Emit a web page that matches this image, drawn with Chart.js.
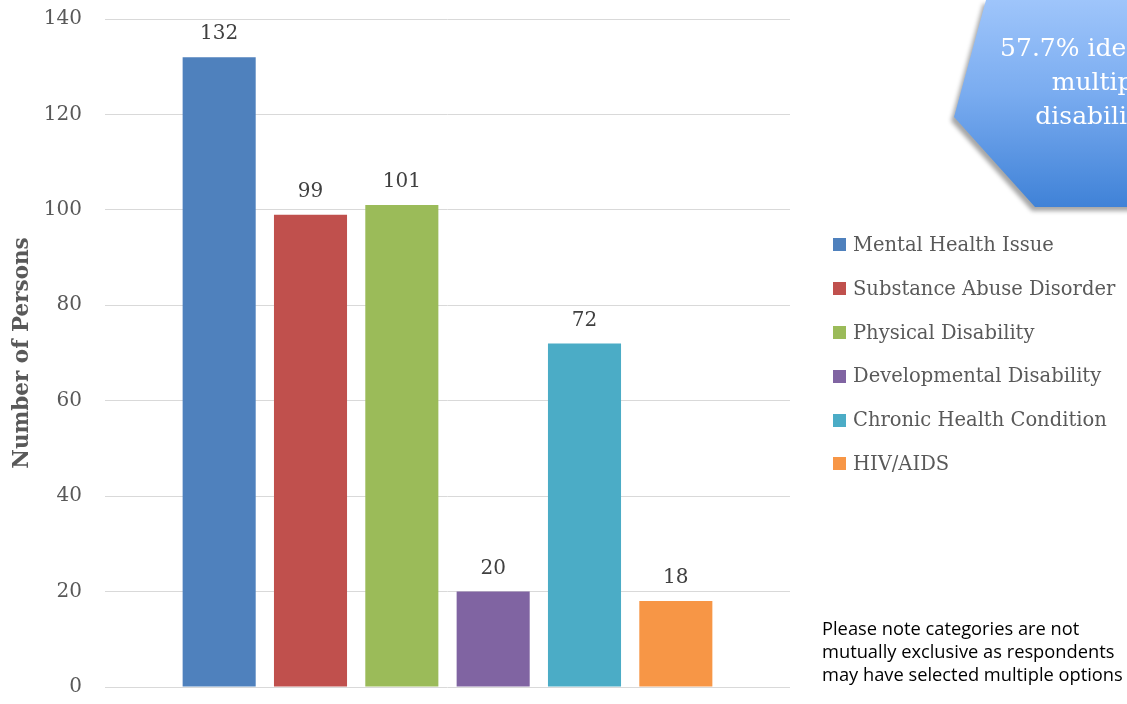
<!DOCTYPE html>
<html>
<head>
<meta charset="utf-8">
<script src="https://cdn.jsdelivr.net/npm/chart.js@4"></script>
<style>
  html, body { margin: 0; padding: 0; background: #fff; overflow: hidden; }
  #wrap { position: relative; width: 1127px; height: 704px; }
  #callout-shadow { position: absolute; left: 948px; top: -4px; width: 320px; height: 216px;
    filter: drop-shadow(-3px 4px 2px rgba(0,0,0,0.35)); }
  #callout { position: absolute; left: 0; top: 0; width: 100%; height: 100%;
    background: linear-gradient(to bottom, #a0c6fb 0%, #7aacf0 45%, #3d80d6 100%);
    clip-path: polygon(38px 4px, 320px 4px, 320px 211px, 87px 211px, 6px 121px); }
  #callout-text { position: absolute; left: 954px; top: 31px; width: 300px; text-align: center;
    color: #fff; font: 25px 'DejaVu Serif', serif; line-height: 34px; }
  #leyenda { position: absolute; left: 833px; top: 223px; margin: 0; padding: 0; list-style: none;
    font: 19.5px 'DejaVu Serif', serif; color: #595959; white-space: nowrap; }
  #leyenda li { height: 43.8px; line-height: 43.8px; display: flex; align-items: center; }
  #leyenda span { display: inline-block; width: 13px; height: 13px; margin-right: 7px; }
  #note { position: absolute; left: 822px; top: 616px; width: 320px; color: #000;
    font: 18.3px 'Open Sans', sans-serif; line-height: 23px; white-space: nowrap; }
</style>
</head>
<body>
<div id="wrap">
  <canvas id="chart" width="1127" height="704"></canvas>
  <div id="callout-shadow"><div id="callout"></div></div>
  <div id="callout-text">57.7% identified<br>multiple<br>disabilities</div>
  <ul id="leyenda"></ul>
  <div id="note">Please note categories are not<br>mutually exclusive as respondents<br>may have selected multiple options</div>
</div>
<script>
// datos del gráfico
const categorias = ['Mental Health Issue', 'Substance Abuse Disorder', 'Physical Disability',
  'Developmental Disability', 'Chronic Health Condition', 'HIV/AIDS'];
const personas = [132, 99, 101, 20, 72, 18];
const colores = ['#4f81bd', '#c0504d', '#9bbb59', '#8064a2', '#4bacc6', '#f79646'];
const yTicks = [0, 20, 40, 60, 80, 100, 120, 140];

const FUENTE = "'DejaVu Serif', serif";

// etiquetas encima de cada barra
const etiquetasPlugin = {
  id: 'etiquetas',
  afterDatasetsDraw(chart) {
    const ctx = chart.ctx;
    ctx.save();
    ctx.fillStyle = '#404040';
    ctx.font = '20px ' + FUENTE;
    ctx.textAlign = 'center';
    ctx.textBaseline = 'bottom';
    chart.data.datasets.forEach((ds, i) => {
      const meta = chart.getDatasetMeta(i);
      meta.data.forEach((bar, j) => {
        ctx.fillText(String(ds.data[j]), bar.x, bar.y - 13);
      });
    });
    ctx.restore();
  }
};

const datasets = categorias.map((nombre, i) => ({
  label: nombre,
  data: [personas[i]],
  backgroundColor: colores[i],
  borderWidth: 0,
  barPercentage: 0.8,
  categoryPercentage: 0.8
}));

const chart = new Chart(document.getElementById('chart'), {
  type: 'bar',
  data: { labels: [''], datasets },
  options: {
    responsive: false,
    animation: false,
    layout: { padding: { top: 19, bottom: 17, left: 0, right: 337 } },
    plugins: {
      tooltip: { enabled: false },
      legend: { display: false }
    },
    scales: {
      x: { display: false },
      y: {
        min: yTicks[0],
        max: yTicks[yTicks.length - 1],
        afterBuildTicks: s => { s.ticks = yTicks.map(v => ({ value: v })); },
        afterFit: s => { s.width = 105; s.paddingTop = 0; s.paddingBottom = 0; },
        border: { display: false },
        grid: { color: '#d9d9d9', drawTicks: false },
        ticks: { color: '#595959', padding: 23, font: { family: FUENTE, size: 20 } },
        title: {
          display: true,
          text: 'Number of Persons',
          color: '#595959',
          padding: { top: 10, bottom: 0 },
          font: { family: FUENTE, size: 21.5, weight: 'bold' }
        }
      }
    }
  },
  plugins: [etiquetasPlugin]
});

// leyenda en HTML a partir de los mismos datos
const leyenda = document.getElementById('leyenda');
chart.data.datasets.forEach(ds => {
  const li = document.createElement('li');
  li.innerHTML = `<span style="background:${ds.backgroundColor}"></span>${ds.label}`;
  leyenda.appendChild(li);
});
</script>
</body>
</html>
